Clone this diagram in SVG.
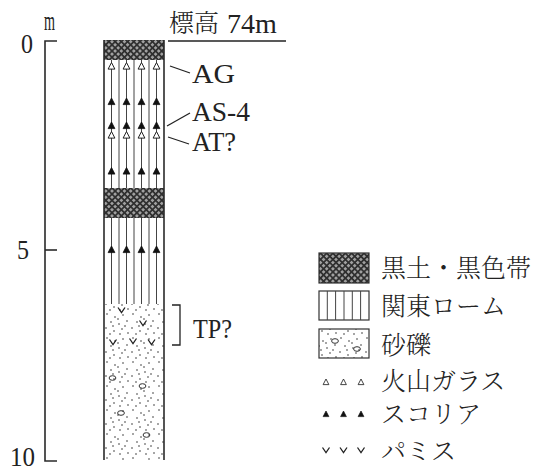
<svg xmlns="http://www.w3.org/2000/svg" width="536" height="472" viewBox="0 0 536 472">
  <style>
    .lat { font-family: "Liberation Serif", "DejaVu Serif", serif; font-size: 27px; fill: #222; }
    .jp { font-family: "Noto Serif CJK JP", "Noto Sans CJK JP", sans-serif; font-size: 25px; font-weight: 300; fill: #222; }
    .edge { stroke: #2a2a2a; stroke-width: 1.6; fill: none; }
    .loam { stroke: #444; stroke-width: 1; }
    .lead { stroke: #222; stroke-width: 1.3; fill: none; }
    .glass { fill: #fff; stroke: #222; stroke-width: 1; }
    .scoria { fill: #111; stroke: #111; stroke-width: 0.8; }
    .pumice { fill: none; stroke: #222; stroke-width: 1.3; }
    .pebble { fill: none; stroke: #333; stroke-width: 1; }
  </style>
  <defs>
    <!-- black soil: dark cross-hatch over grey -->
    <pattern id="blacksoil" patternUnits="userSpaceOnUse" width="4.4" height="4.4" patternTransform="rotate(45)">
      <rect width="4.4" height="4.4" fill="#a0a0a0"/>
      <rect width="4.4" height="1.7" fill="#2e2e2e"/>
      <rect width="1.7" height="4.4" fill="#2e2e2e"/>
    </pattern>
    <!-- sand: scattered dots -->
    <pattern id="sand" patternUnits="userSpaceOnUse" width="26" height="24">
      <g fill="#333">
        <circle cx="3" cy="2" r="0.8"/>
        <circle cx="11" cy="5" r="0.8"/>
        <circle cx="19" cy="3" r="0.8"/>
        <circle cx="7" cy="10" r="0.8"/>
        <circle cx="15" cy="12" r="0.8"/>
        <circle cx="23" cy="9" r="0.8"/>
        <circle cx="2" cy="16" r="0.8"/>
        <circle cx="10" cy="19" r="0.8"/>
        <circle cx="18" cy="17" r="0.8"/>
        <circle cx="24" cy="21" r="0.8"/>
        <circle cx="6" cy="22" r="0.8"/>
        <circle cx="14" cy="7" r="0.8"/>
        <circle cx="21" cy="14" r="0.8"/>
        <circle cx="9" cy="14" r="0.8"/>
        <circle cx="16" cy="22" r="0.8"/>
      </g>
    </pattern>
    <polygon id="tri" points="0,0 3.4,6.6 -3.4,6.6"/>
    <polyline id="vee" points="-3.5,-2.5 0,2.5 3.5,-2.5"/>
    <ellipse id="peb" rx="3.4" ry="2.3"/>
  </defs>

  <!-- depth scale -->
  <g id="scale">
    <polyline class="edge" points="57,41 45,41 45,461 57,461"/>
    <line class="edge" x1="45" y1="250" x2="57" y2="250"/>
    <text class="lat" x="21" y="53" textLength="12" lengthAdjust="spacingAndGlyphs">0</text>
    <text class="lat" x="17" y="259" textLength="12" lengthAdjust="spacingAndGlyphs">5</text>
    <text class="lat" x="10" y="466" textLength="25" lengthAdjust="spacingAndGlyphs">10</text>
    <text class="lat" x="44" y="30" font-size="24" textLength="11" lengthAdjust="spacingAndGlyphs">m</text>
  </g>

  <!-- elevation heading -->
  <g id="heading">
    <text class="jp" x="169" y="32" font-size="22">標高</text>
    <text class="lat" x="227" y="33" textLength="50" lengthAdjust="spacingAndGlyphs">74m</text>
    <line x1="168" y1="41" x2="286" y2="41" stroke="#222" stroke-width="1.3"/>
  </g>

  <!-- column -->
  <g id="column">
    <!-- loam vertical lines -->
    <g class="loam">
      <line x1="111.5" y1="60" x2="111.5" y2="304"/>
      <line x1="119" y1="60" x2="119" y2="304"/>
      <line x1="126.5" y1="60" x2="126.5" y2="304"/>
      <line x1="134" y1="60" x2="134" y2="304"/>
      <line x1="141.5" y1="60" x2="141.5" y2="304"/>
      <line x1="149" y1="60" x2="149" y2="304"/>
      <line x1="156.5" y1="60" x2="156.5" y2="304"/>
    </g>
    <!-- black soil layers -->
    <rect x="104" y="40" width="60" height="20" fill="url(#blacksoil)"/>
    <rect x="104" y="188" width="60" height="30" fill="url(#blacksoil)"/>
    <!-- sand and gravel -->
    <rect x="104" y="304" width="60" height="156" fill="url(#sand)"/>
    <g class="pebble">
      <use href="#peb" x="112.5" y="378"/>
      <use href="#peb" x="142.5" y="386"/>
      <use href="#peb" x="121" y="413"/>
      <use href="#peb" x="146.5" y="435"/>
    </g>
    <!-- pumice -->
    <g class="pumice">
      <use href="#vee" x="121.5" y="310"/>
      <use href="#vee" x="143" y="323"/>
      <use href="#vee" x="113" y="342"/>
      <use href="#vee" x="133" y="341"/>
      <use href="#vee" x="151.5" y="342"/>
    </g>
    <!-- volcanic glass -->
    <g class="glass">
      <use href="#tri" x="111.5" y="62.5"/>
      <use href="#tri" x="126.5" y="62.5"/>
      <use href="#tri" x="141.5" y="62.5"/>
      <use href="#tri" x="156.5" y="62.5"/>
      <use href="#tri" x="111.5" y="131.5"/>
      <use href="#tri" x="126.5" y="131.5"/>
      <use href="#tri" x="141.5" y="131.5"/>
      <use href="#tri" x="156.5" y="131.5"/>
    </g>
    <!-- scoria -->
    <g class="scoria">
      <use href="#tri" x="111.5" y="98"/>
      <use href="#tri" x="126.5" y="98"/>
      <use href="#tri" x="141.5" y="98"/>
      <use href="#tri" x="156.5" y="98"/>
      <use href="#tri" x="111.5" y="122"/>
      <use href="#tri" x="126.5" y="122"/>
      <use href="#tri" x="141.5" y="122"/>
      <use href="#tri" x="156.5" y="122"/>
      <use href="#tri" x="111.5" y="167.5"/>
      <use href="#tri" x="126.5" y="167.5"/>
      <use href="#tri" x="141.5" y="167.5"/>
      <use href="#tri" x="156.5" y="167.5"/>
      <use href="#tri" x="111.5" y="246"/>
      <use href="#tri" x="126.5" y="246"/>
      <use href="#tri" x="141.5" y="246"/>
      <use href="#tri" x="156.5" y="246"/>
    </g>
    <!-- outline -->
    <line class="edge" x1="104" y1="40" x2="104" y2="460"/>
    <line class="edge" x1="164" y1="40" x2="164" y2="460"/>
  </g>

  <!-- layer labels -->
  <g id="labels">
    <line class="lead" x1="170" y1="66" x2="190" y2="73"/>
    <text class="lat" x="192" y="83" textLength="43" lengthAdjust="spacingAndGlyphs">AG</text>
    <line class="lead" x1="167" y1="126" x2="190" y2="113"/>
    <text class="lat" x="192" y="121" textLength="58" lengthAdjust="spacingAndGlyphs">AS-4</text>
    <line class="lead" x1="168" y1="137" x2="189" y2="144"/>
    <text class="lat" x="192" y="151" textLength="44" lengthAdjust="spacingAndGlyphs">AT?</text>
    <polyline class="lead" points="172,305 180,305 180,345 172,345"/>
    <text class="lat" x="193" y="338" textLength="39" lengthAdjust="spacingAndGlyphs">TP?</text>
  </g>

  <!-- legend -->
  <g id="legend-blacksoil">
    <rect x="319" y="253" width="50" height="30" fill="url(#blacksoil)" stroke="#333" stroke-width="1.2"/>
    <text class="jp" x="381" y="277">黒土・黒色帯</text>
  </g>
  <g id="legend-loam">
    <rect x="319" y="291" width="50" height="29" fill="#fff" stroke="#333" stroke-width="1.2"/>
    <g class="loam">
      <line x1="327.3" y1="291" x2="327.3" y2="320"/>
      <line x1="335.6" y1="291" x2="335.6" y2="320"/>
      <line x1="344" y1="291" x2="344" y2="320"/>
      <line x1="352.3" y1="291" x2="352.3" y2="320"/>
      <line x1="360.6" y1="291" x2="360.6" y2="320"/>
    </g>
    <text class="jp" x="381" y="315">関東ローム</text>
  </g>
  <g id="legend-gravel">
    <rect x="319" y="329" width="50" height="29" fill="url(#sand)" stroke="#333" stroke-width="1.2"/>
    <g class="pebble">
      <use href="#peb" x="335" y="341"/>
      <use href="#peb" x="357" y="349"/>
    </g>
    <text class="jp" x="381" y="354">砂礫</text>
  </g>
  <g id="legend-glass">
    <g class="glass">
      <use href="#tri" x="326" y="379" transform="translate(326 379) scale(0.85) translate(-326 -379)"/>
      <use href="#tri" x="343.5" y="379" transform="translate(343.5 379) scale(0.85) translate(-343.5 -379)"/>
      <use href="#tri" x="361" y="379" transform="translate(361 379) scale(0.85) translate(-361 -379)"/>
    </g>
    <text class="jp" x="381" y="390">火山ガラス</text>
  </g>
  <g id="legend-scoria">
    <g class="scoria">
      <use href="#tri" x="326" y="411" transform="translate(326 411) scale(0.85) translate(-326 -411)"/>
      <use href="#tri" x="343.5" y="411" transform="translate(343.5 411) scale(0.85) translate(-343.5 -411)"/>
      <use href="#tri" x="361" y="411" transform="translate(361 411) scale(0.85) translate(-361 -411)"/>
    </g>
    <text class="jp" x="381" y="423">スコリア</text>
  </g>
  <g id="legend-pumice">
    <g class="pumice">
      <use href="#vee" x="326" y="450"/>
      <use href="#vee" x="343.5" y="450"/>
      <use href="#vee" x="361" y="450"/>
    </g>
    <text class="jp" x="381" y="460">パミス</text>
  </g>
</svg>
